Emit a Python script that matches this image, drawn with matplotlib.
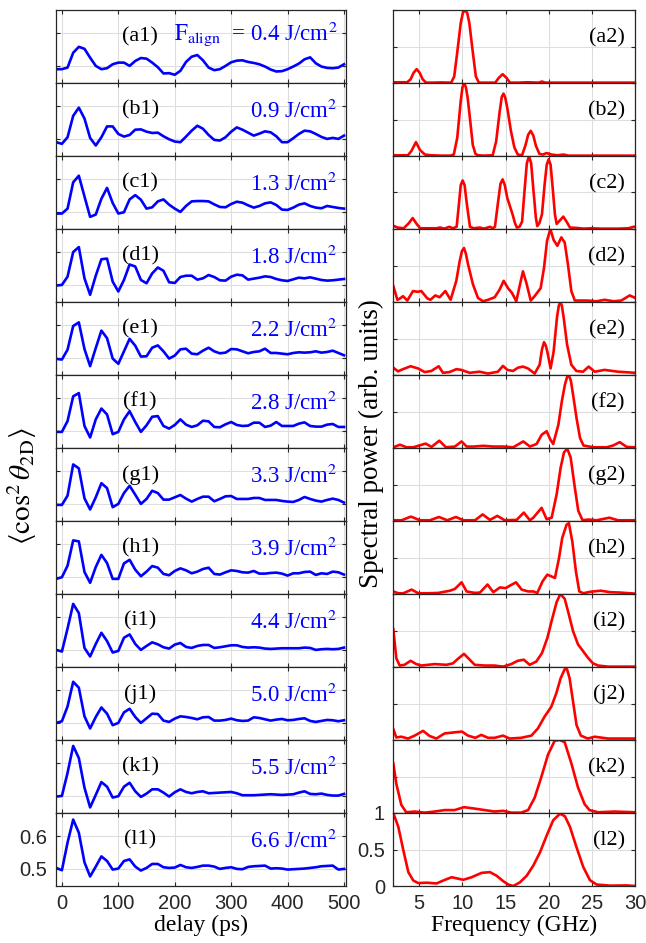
import numpy as np
import matplotlib.pyplot as plt

plt.rcParams['font.family'] = 'Liberation Sans'
plt.rcParams['mathtext.fontset'] = 'stix'
SERIF = 'Liberation Serif'

# ---- left column: alignment traces <cos^2 theta_2D>, sampled every 10 ps ----
delay_ps = np.arange(-10, 501, 10)

cos2_a = [0.490, 0.490, 0.495, 0.540, 0.558, 0.552, 0.525, 0.500, 0.490, 0.493,
          0.505, 0.510, 0.510, 0.500, 0.515, 0.524, 0.522, 0.510, 0.496, 0.477,
          0.478, 0.473, 0.485, 0.512, 0.528, 0.533, 0.517, 0.495, 0.487, 0.490,
          0.500, 0.511, 0.516, 0.517, 0.512, 0.509, 0.505, 0.498, 0.489, 0.483,
          0.484, 0.490, 0.498, 0.507, 0.520, 0.526, 0.508, 0.498, 0.494, 0.493,
          0.495, 0.505]
cos2_b = [0.490, 0.485, 0.505, 0.570, 0.595, 0.562, 0.503, 0.480, 0.505, 0.538,
          0.538, 0.515, 0.507, 0.512, 0.528, 0.529, 0.522, 0.518, 0.519, 0.508,
          0.499, 0.492, 0.490, 0.507, 0.525, 0.540, 0.531, 0.512, 0.497, 0.495,
          0.505, 0.522, 0.535, 0.528, 0.519, 0.510, 0.516, 0.523, 0.520, 0.508,
          0.490, 0.490, 0.502, 0.515, 0.525, 0.523, 0.515, 0.506, 0.500, 0.503,
          0.500, 0.510]
cos2_c = [0.495, 0.495, 0.510, 0.590, 0.610, 0.547, 0.485, 0.492, 0.540, 0.573,
          0.527, 0.495, 0.499, 0.538, 0.551, 0.537, 0.510, 0.514, 0.532, 0.538,
          0.522, 0.510, 0.500, 0.518, 0.532, 0.533, 0.533, 0.532, 0.523, 0.515,
          0.514, 0.524, 0.531, 0.528, 0.520, 0.513, 0.518, 0.526, 0.529, 0.521,
          0.507, 0.506, 0.513, 0.522, 0.526, 0.518, 0.513, 0.511, 0.518, 0.515,
          0.512, 0.510]
cos2_d = [0.498, 0.500, 0.525, 0.600, 0.615, 0.520, 0.470, 0.528, 0.578, 0.580,
          0.510, 0.480, 0.515, 0.562, 0.556, 0.515, 0.505, 0.535, 0.553, 0.543,
          0.508, 0.506, 0.524, 0.528, 0.528, 0.516, 0.520, 0.530, 0.524, 0.514,
          0.513, 0.525, 0.531, 0.529, 0.516, 0.519, 0.522, 0.526, 0.524, 0.518,
          0.514, 0.512, 0.517, 0.522, 0.520, 0.523, 0.519, 0.515, 0.513, 0.514,
          0.516, 0.518]
cos2_e = [0.497, 0.495, 0.525, 0.597, 0.608, 0.527, 0.475, 0.530, 0.583, 0.560,
          0.498, 0.482, 0.520, 0.558, 0.537, 0.504, 0.505, 0.531, 0.538, 0.520,
          0.498, 0.507, 0.526, 0.528, 0.513, 0.511, 0.522, 0.531, 0.520, 0.514,
          0.516, 0.527, 0.526, 0.520, 0.514, 0.518, 0.520, 0.528, 0.515, 0.515,
          0.513, 0.511, 0.515, 0.517, 0.516, 0.517, 0.520, 0.516, 0.518, 0.522,
          0.515, 0.508]
cos2_f = [0.497, 0.497, 0.530, 0.605, 0.615, 0.515, 0.480, 0.535, 0.568, 0.550,
          0.490, 0.497, 0.535, 0.560, 0.527, 0.497, 0.517, 0.543, 0.545, 0.515,
          0.507, 0.518, 0.535, 0.519, 0.512, 0.517, 0.531, 0.529, 0.512, 0.511,
          0.520, 0.527, 0.518, 0.515, 0.516, 0.525, 0.525, 0.512, 0.516, 0.527,
          0.515, 0.515, 0.515, 0.522, 0.526, 0.515, 0.513, 0.513, 0.519, 0.521,
          0.512, 0.512]
cos2_g = [0.497, 0.497, 0.525, 0.620, 0.608, 0.517, 0.483, 0.520, 0.563, 0.548,
          0.490, 0.500, 0.533, 0.555, 0.528, 0.500, 0.515, 0.540, 0.533, 0.513,
          0.513, 0.520, 0.527, 0.516, 0.507, 0.515, 0.522, 0.522, 0.508, 0.515,
          0.523, 0.524, 0.515, 0.515, 0.515, 0.518, 0.518, 0.512, 0.512, 0.512,
          0.509, 0.507, 0.506, 0.512, 0.521, 0.515, 0.510, 0.507, 0.512, 0.516,
          0.512, 0.504]
cos2_h = [0.494, 0.499, 0.534, 0.611, 0.608, 0.515, 0.482, 0.530, 0.567, 0.542,
          0.494, 0.494, 0.541, 0.552, 0.522, 0.502, 0.516, 0.533, 0.528, 0.509,
          0.505, 0.518, 0.526, 0.520, 0.511, 0.516, 0.524, 0.528, 0.509, 0.507,
          0.514, 0.520, 0.518, 0.514, 0.513, 0.518, 0.510, 0.510, 0.512, 0.513,
          0.510, 0.504, 0.511, 0.511, 0.515, 0.516, 0.506, 0.511, 0.509, 0.516,
          0.514, 0.507]
cos2_i = [0.500, 0.495, 0.565, 0.640, 0.612, 0.506, 0.480, 0.518, 0.552, 0.527,
          0.492, 0.497, 0.537, 0.547, 0.518, 0.500, 0.512, 0.523, 0.517, 0.508,
          0.504, 0.516, 0.521, 0.509, 0.506, 0.512, 0.515, 0.515, 0.506, 0.508,
          0.511, 0.514, 0.514, 0.509, 0.507, 0.508, 0.507, 0.504, 0.503, 0.504,
          0.505, 0.505, 0.505, 0.505, 0.507, 0.506, 0.500, 0.502, 0.503, 0.502,
          0.503, 0.507]
cos2_j = [0.500, 0.505, 0.550, 0.625, 0.607, 0.520, 0.483, 0.518, 0.547, 0.528,
          0.493, 0.500, 0.532, 0.543, 0.518, 0.500, 0.514, 0.528, 0.527, 0.507,
          0.503, 0.513, 0.520, 0.518, 0.515, 0.511, 0.517, 0.518, 0.507, 0.507,
          0.509, 0.513, 0.508, 0.506, 0.507, 0.517, 0.515, 0.511, 0.507, 0.510,
          0.512, 0.508, 0.509, 0.512, 0.514, 0.506, 0.503, 0.506, 0.509, 0.508,
          0.505, 0.508]
cos2_k = [0.498, 0.500, 0.570, 0.652, 0.615, 0.525, 0.465, 0.503, 0.542, 0.528,
          0.495, 0.499, 0.528, 0.540, 0.514, 0.497, 0.507, 0.520, 0.520, 0.510,
          0.498, 0.511, 0.520, 0.512, 0.508, 0.512, 0.514, 0.508, 0.509, 0.510,
          0.511, 0.512, 0.508, 0.502, 0.502, 0.502, 0.503, 0.504, 0.505, 0.504,
          0.503, 0.504, 0.505, 0.510, 0.514, 0.506, 0.505, 0.507, 0.503, 0.501,
          0.501, 0.506]
cos2_l = [0.503, 0.496, 0.580, 0.650, 0.610, 0.520, 0.477, 0.507, 0.538, 0.524,
          0.498, 0.501, 0.524, 0.529, 0.507, 0.495, 0.503, 0.515, 0.515, 0.505,
          0.503, 0.504, 0.512, 0.505, 0.503, 0.506, 0.510, 0.510, 0.507, 0.500,
          0.503, 0.505, 0.500, 0.499, 0.506, 0.508, 0.509, 0.510, 0.501, 0.502,
          0.501, 0.498, 0.499, 0.500, 0.501, 0.503, 0.505, 0.508, 0.509, 0.510,
          0.498, 0.500]

# ---- right column: spectra, (frequency GHz, normalised power) ----
spec_a = [(2.0, 0.01), (3.0, 0.01), (3.6, 0.01), (4.0, 0.05), (4.35, 0.14), (4.7, 0.19),
          (5.05, 0.14), (5.4, 0.05), (5.8, 0.005), (6.5, 0.005), (7.5, 0.008), (8.7, 0.005),
          (9.05, 0.09), (9.43, 0.45), (9.8, 0.82), (10.05, 0.96), (10.3, 1.0), (10.55, 0.96),
          (10.8, 0.82), (11.17, 0.45), (11.55, 0.09), (11.9, 0.005), (12.5, 0.005),
          (13.8, 0.005), (14.2, 0.07), (14.65, 0.12), (15.1, 0.07), (15.5, 0.005),
          (16.5, 0.005), (17.5, 0.01), (18.8, 0.005), (19.2, 0.02), (19.6, 0.005),
          (21.0, 0.005), (23.0, 0.005), (25.0, 0.005), (27.0, 0.005), (30.0, 0.005)]
spec_b = [(2.0, 0.01), (3.0, 0.01), (3.7, 0.01), (4.1, 0.07), (4.62, 0.19), (5.1, 0.08),
          (5.66, 0.02), (6.4, 0.01), (7.5, 0.005), (8.6, 0.005), (9.0, 0.02), (9.4, 0.25),
          (9.6, 0.5), (9.8, 0.75), (10.0, 0.94), (10.2, 1.0), (10.4, 0.94), (10.6, 0.8),
          (10.9, 0.48), (11.2, 0.15), (11.5, 0.03), (11.8, 0.01), (12.5, 0.005), (13.5, 0.01),
          (13.9, 0.2), (14.3, 0.6), (14.55, 0.81), (14.75, 0.855), (14.95, 0.8), (15.2, 0.65),
          (15.6, 0.35), (16.0, 0.12), (16.4, 0.02), (16.9, 0.01), (17.3, 0.15), (17.6, 0.29),
          (17.9, 0.345), (18.2, 0.28), (18.5, 0.14), (18.9, 0.03), (19.3, 0.02), (19.74, 0.04),
          (20.3, 0.02), (21.0, 0.01), (21.67, 0.02), (22.3, 0.005), (24.0, 0.005),
          (26.0, 0.005), (28.0, 0.005), (30.0, 0.005)]
spec_c = [(2.0, 0.045), (2.5, 0.02), (3.2, 0.01), (3.8, 0.08), (4.24, 0.15), (4.7, 0.07),
          (5.1, 0.01), (6.0, 0.01), (7.0, 0.01), (7.4, 0.02), (7.9, 0.005), (8.48, 0.03),
          (8.9, 0.01), (9.33, 0.03), (9.6, 0.35), (9.8, 0.6), (10.02, 0.665), (10.25, 0.6),
          (10.5, 0.35), (10.87, 0.03), (11.3, 0.01), (12.0, 0.02), (12.5, 0.005), (13.2, 0.03),
          (13.5, 0.01), (13.76, 0.03), (14.1, 0.35), (14.4, 0.62), (14.65, 0.68), (14.9, 0.6),
          (15.2, 0.42), (15.5, 0.31), (15.8, 0.2), (16.08, 0.08), (16.3, 0.02), (16.6, 0.03),
          (16.9, 0.1), (17.2, 0.55), (17.45, 0.9), (17.7, 1.0), (17.95, 0.9), (18.2, 0.55),
          (18.5, 0.15), (18.66, 0.04), (18.9, 0.08), (19.2, 0.2), (19.5, 0.6), (19.75, 0.88),
          (19.97, 0.955), (20.2, 0.88), (20.45, 0.55), (20.7, 0.2), (20.9, 0.07), (21.3, 0.12),
          (21.67, 0.17), (22.05, 0.1), (22.44, 0.02), (23.2, 0.015), (24.0, 0.005),
          (24.9, 0.01), (26.0, 0.005), (28.0, 0.005), (29.2, 0.01), (29.8, 0.03), (30.0, 0.03)]
spec_d = [(2.0, 0.22), (2.47, 0.03), (2.8, 0.05), (3.12, 0.08), (3.62, 0.02), (4.28, 0.15),
          (4.8, 0.14), (5.24, 0.15), (5.93, 0.05), (6.3, 0.03), (6.86, 0.09), (7.36, 0.065),
          (8.02, 0.15), (8.63, 0.03), (9.29, 0.29), (9.68, 0.56), (9.95, 0.7), (10.18, 0.74),
          (10.4, 0.66), (10.64, 0.52), (11.22, 0.24), (11.8, 0.055), (12.38, 0.01),
          (12.96, 0.03), (13.73, 0.065), (14.3, 0.17), (14.77, 0.29), (15.27, 0.19),
          (15.73, 0.125), (16.23, 0.01), (16.62, 0.22), (17.0, 0.42), (17.4, 0.26),
          (17.9, 0.02), (18.35, 0.08), (19.05, 0.19), (19.44, 0.47), (19.79, 0.84),
          (20.17, 1.0), (20.55, 0.85), (20.98, 0.77), (21.44, 0.885), (21.83, 0.815),
          (22.2, 0.52), (22.6, 0.15), (23.0, 0.02), (24.5, 0.02), (25.5, 0.01), (26.45, 0.03),
          (27.5, 0.01), (28.38, 0.02), (29.35, 0.09), (30.0, 0.055)]
spec_e = [(2.0, 0.1), (2.54, 0.05), (3.12, 0.08), (4.0, 0.12), (4.86, 0.09), (5.63, 0.04),
          (6.4, 0.055), (7.25, 0.12), (7.75, 0.03), (8.5, 0.04), (9.3, 0.08), (9.87, 0.07),
          (10.83, 0.03), (11.99, 0.045), (12.96, 0.02), (14.1, 0.045), (14.69, 0.125),
          (15.2, 0.07), (15.85, 0.055), (16.42, 0.1), (17.0, 0.115), (17.58, 0.09),
          (18.36, 0.02), (18.93, 0.14), (19.2, 0.35), (19.44, 0.45), (19.65, 0.4),
          (19.82, 0.32), (20.2, 0.09), (20.55, 0.32), (20.94, 0.79), (21.15, 0.95),
          (21.33, 1.0), (21.5, 0.95), (21.71, 0.79), (22.1, 0.42), (22.6, 0.14),
          (23.18, 0.055), (23.95, 0.045), (24.6, 0.115), (25.3, 0.045), (26.45, 0.07),
          (28.0, 0.045), (30.0, 0.03)]
spec_f = [(2.0, 0.01), (2.77, 0.045), (3.54, 0.01), (4.31, 0.01), (5.74, 0.06), (6.43, 0.015),
          (7.32, 0.1), (8.09, 0.01), (9.13, 0.02), (9.9, 0.09), (10.48, 0.02), (11.26, 0.02),
          (12.41, 0.03), (13.57, 0.02), (14.73, 0.02), (15.88, 0.01), (17.04, 0.09),
          (17.81, 0.02), (18.58, 0.055), (19.16, 0.18), (19.74, 0.23), (20.15, 0.12),
          (20.5, 0.055), (21.1, 0.32), (21.5, 0.64), (21.86, 0.87), (22.1, 0.97), (22.3, 1.0),
          (22.55, 0.92), (22.8, 0.73), (23.2, 0.41), (23.6, 0.14), (24.0, 0.035), (25.1, 0.01),
          (26.7, 0.01), (27.45, 0.035), (28.2, 0.08), (29.0, 0.015), (30.0, 0.01)]
spec_g = [(2.0, 0.01), (2.96, 0.01), (4.04, 0.06), (5.08, 0.01), (6.24, 0.01), (7.28, 0.055),
          (8.25, 0.01), (9.25, 0.055), (10.1, 0.01), (11.45, 0.01), (12.34, 0.09),
          (13.18, 0.015), (14.03, 0.07), (14.9, 0.01), (16.27, 0.015), (17.1, 0.115),
          (17.8, 0.01), (18.2, 0.045), (19.16, 0.18), (19.74, 0.025), (20.32, 0.045),
          (20.9, 0.365), (21.36, 0.73), (21.75, 0.94), (22.13, 0.99), (22.52, 0.87),
          (23.0, 0.46), (23.4, 0.14), (23.9, 0.01), (24.56, 0.02), (25.52, 0.01), (27.0, 0.045),
          (28.0, 0.01), (30.0, 0.01)]
spec_h = [(2.0, 0.035), (2.58, 0.01), (3.16, 0.01), (4.12, 0.06), (4.89, 0.01), (6.05, 0.01),
          (7.2, 0.015), (8.56, 0.045), (9.13, 0.07), (9.9, 0.16), (10.48, 0.035),
          (11.45, 0.015), (12.03, 0.02), (12.9, 0.13), (13.57, 0.025), (14.34, 0.09),
          (15.0, 0.08), (15.5, 0.115), (16.2, 0.16), (16.85, 0.06), (17.6, 0.035),
          (18.2, 0.035), (18.66, 0.015), (19.28, 0.175), (19.82, 0.265), (20.32, 0.24),
          (20.7, 0.22), (21.17, 0.49), (21.55, 0.77), (22.05, 0.95), (22.32, 0.97),
          (22.71, 0.72), (23.13, 0.31), (23.52, 0.035), (24.0, 0.01), (24.75, 0.03),
          (26.0, 0.045), (27.07, 0.025), (28.2, 0.02), (30.0, 0.005)]
spec_i = [(2.0, 0.52), (2.35, 0.12), (2.74, 0.02), (3.3, 0.03), (4.0, 0.085), (4.66, 0.04),
          (5.24, 0.02), (6.79, 0.04), (8.14, 0.03), (8.9, 0.05), (9.56, 0.12), (10.18, 0.18),
          (10.84, 0.1), (11.42, 0.03), (12.57, 0.02), (13.7, 0.02), (14.7, 0.005),
          (15.65, 0.04), (16.4, 0.085), (17.1, 0.1), (17.78, 0.03), (18.55, 0.075),
          (19.2, 0.19), (19.83, 0.4), (20.37, 0.655), (20.9, 0.89), (21.33, 1.0),
          (21.83, 0.935), (22.3, 0.725), (22.8, 0.49), (23.37, 0.31), (23.97, 0.215),
          (24.5, 0.13), (25.1, 0.05), (25.7, 0.02), (26.85, 0.005), (28.4, 0.005), (30.0, 0.005)]
spec_j = [(2.0, 0.15), (2.35, 0.035), (2.93, 0.045), (3.7, 0.02), (4.47, 0.06), (5.44, 0.125),
          (6.2, 0.055), (6.98, 0.02), (7.94, 0.09), (9.1, 0.105), (9.95, 0.115), (10.64, 0.06),
          (11.49, 0.03), (12.18, 0.07), (12.96, 0.03), (13.73, 0.03), (14.7, 0.06),
          (15.46, 0.02), (16.8, 0.03), (17.98, 0.06), (18.74, 0.16), (19.5, 0.32),
          (20.28, 0.455), (20.86, 0.64), (21.36, 0.845), (21.83, 0.97), (22.1, 0.97),
          (22.4, 0.845), (22.8, 0.525), (23.2, 0.205), (23.7, 0.06), (24.5, 0.02),
          (25.3, 0.045), (26.85, 0.02), (30.0, 0.02)]
spec_k = [(2.0, 0.68), (2.35, 0.4), (2.93, 0.11), (3.5, 0.01), (4.47, 0.02), (5.63, 0.005),
          (6.79, 0.02), (7.94, 0.04), (9.1, 0.04), (10.18, 0.08), (11.42, 0.06), (12.57, 0.04),
          (13.73, 0.02), (14.7, 0.03), (15.65, 0.005), (16.8, 0.005), (17.6, 0.04),
          (18.36, 0.21), (19.12, 0.49), (19.9, 0.8), (20.67, 0.99), (21.25, 1.0),
          (21.83, 0.97), (22.6, 0.68), (23.37, 0.35), (24.14, 0.12), (24.7, 0.04),
          (25.7, 0.01), (27.6, 0.02), (30.0, 0.01)]
spec_l = [(2.0, 1.0), (2.58, 0.81), (3.16, 0.49), (3.74, 0.19), (4.31, 0.075), (4.89, 0.04),
          (5.86, 0.045), (7.01, 0.035), (7.78, 0.075), (8.75, 0.12), (10.1, 0.085),
          (11.06, 0.12), (12.22, 0.18), (13.18, 0.19), (13.96, 0.14), (14.73, 0.065),
          (15.3, 0.02), (15.88, 0.0), (16.65, 0.05), (17.43, 0.14), (18.2, 0.28),
          (18.97, 0.46), (19.74, 0.69), (20.5, 0.9), (21.28, 0.99), (21.86, 0.955),
          (22.44, 0.81), (23.2, 0.53), (23.98, 0.26), (24.75, 0.08), (25.52, 0.02),
          (27.07, 0.005), (29.0, 0.008), (30.0, 0.0)]

traces = [cos2_a, cos2_b, cos2_c, cos2_d, cos2_e, cos2_f,
          cos2_g, cos2_h, cos2_i, cos2_j, cos2_k, cos2_l]
spectra = [spec_a, spec_b, spec_c, spec_d, spec_e, spec_f,
           spec_g, spec_h, spec_i, spec_j, spec_k, spec_l]
letters = list("abcdefghijkl")
fluences = ["0.4", "0.9", "1.3", "1.8", "2.2", "2.8",
            "3.3", "3.9", "4.4", "5.0", "5.5", "6.6"]

W, H = 646, 943
fig = plt.figure(figsize=(W / 100, H / 100), dpi=100)

top_px, row_px = 10, 73
left_x, left_w = 55.7 / W, 290 / W
right_x, right_w = 393.3 / W, 242 / W
edge = '#262626'


def style(ax, last):
    for s in ax.spines.values():
        s.set_color(edge)
        s.set_linewidth(0.9)
    ax.tick_params(direction='in', top=True, right=True, length=3, width=0.8,
                   color=edge, labelsize=14.5, labelcolor='#262626', pad=6,
                   labelbottom=last, labelleft=last)
    ax.grid(True, color='#dedede', linewidth=0.8)
    ax.set_axisbelow(True)


n = len(traces)
for i in range(n):
    bottom = 1 - (top_px + row_px * (i + 1)) / H
    h = row_px / H
    last = i == n - 1

    # left: alignment trace
    ax = fig.add_axes([left_x, bottom, left_w, h])
    vals = traces[i]
    m = min(len(vals), len(delay_ps))
    ax.plot(delay_ps[:m], vals[:m], color='#0000ff', lw=1.9)
    ax.set_xlim(-11, 503)
    ax.set_ylim(0.448, 0.67)
    ax.set_xticks([0, 100, 200, 300, 400, 500])
    ax.set_yticks([0.5, 0.6])
    ax.set_yticklabels(['0.5', '0.6'])
    style(ax, last)
    ax.text(0.291, 0.565, f"({letters[i]}1)", transform=ax.transAxes, ha='center',
            va='baseline', family=SERIF, fontsize=16)
    if i == 0:
        ax.text(0.973, 0.59,
                r"$\mathrm{F}_{\mathrm{align}}$" + "  = " + fluences[i] + r" J/cm$^2$",
                transform=ax.transAxes, ha='right', va='baseline', family=SERIF,
                fontsize=16.5, color='#0000ff')
    else:
        ax.text(0.973, 0.52, fluences[i] + r" J/cm$^2$", transform=ax.transAxes,
                ha='right', va='baseline', family=SERIF, fontsize=16.5, color='#0000ff')
    if last:
        ax.set_xlabel("delay (ps)", family=SERIF, fontsize=17, labelpad=1)

    # right: spectrum
    ax2 = fig.add_axes([right_x, bottom, right_w, h])
    freq = [p[0] for p in spectra[i]]
    power = [p[1] for p in spectra[i]]
    ax2.plot(freq, power, color='#ff0000', lw=1.9)
    ax2.set_xlim(2, 30)
    ax2.set_ylim(0, 1)
    ax2.set_xticks([5, 10, 15, 20, 25, 30])
    ax2.set_yticks([0, 0.5, 1])
    ax2.set_yticklabels(['0', '0.5', '1'])
    style(ax2, last)
    ax2.text(0.957, 0.56, f"({letters[i]}2)", transform=ax2.transAxes, ha='right',
             va='baseline', family=SERIF, fontsize=16)
    if last:
        ax2.set_xlabel("Frequency (GHz)", family=SERIF, fontsize=17, labelpad=1)

fig.text(22 / W, 1 - 486 / H, r"$\langle\cos^2\theta_{\mathrm{2D}}\rangle$", rotation=90,
         ha='center', va='center', fontsize=21, family=SERIF)
fig.text(371 / W, 1 - 444 / H, "Spectral power (arb. units)", rotation=90,
         ha='center', va='center', fontsize=19.5, family=SERIF)

fig.savefig("out.png", dpi=100)
